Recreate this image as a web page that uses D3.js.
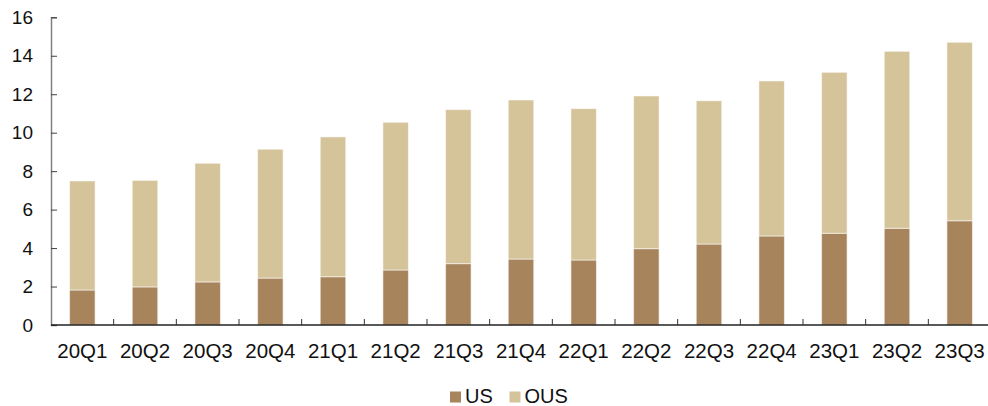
<!DOCTYPE html>
<html>
<head>
<meta charset="utf-8">
<script src="https://cdn.jsdelivr.net/npm/d3@7/dist/d3.min.js"></script>
<style>
  html, body { margin: 0; padding: 0; background: #fff; }
  svg { display: block; font-family: "Liberation Sans", Arial, sans-serif; }
</style>
</head>
<body>
<svg id="chart" width="988" height="406"></svg>
<script>
// Quarterly revenue split, US vs outside US
const quarters = ["20Q1","20Q2","20Q3","20Q4","21Q1","21Q2","21Q3","21Q4",
                  "22Q1","22Q2","22Q3","22Q4","23Q1","23Q2","23Q3"];
const usValues  = [1.82, 1.98, 2.24, 2.44, 2.51, 2.86, 3.19, 3.43, 3.38, 3.97, 4.21, 4.63, 4.77, 5.03, 5.42];
const ousValues = [5.67, 5.54, 6.17, 6.70, 7.27, 7.68, 8.01, 8.27, 7.87, 7.94, 7.45, 8.06, 8.37, 9.20, 9.28];
const seriesNames = ["US", "OUS"];
const yTicks = [0, 2, 4, 6, 8, 10, 12, 14, 16];

const colors = { US: "#a7845c", OUS: "#d5c39a" };

const svg = d3.select("#chart");
const plotLeft = 51, plotRight = 991, plotTop = 17.3, plotBottom = 325;

const xb = d3.scaleBand().domain(quarters).range([plotLeft, plotRight]);
const y = d3.scaleLinear().domain([0, 16]).range([plotBottom, plotTop]);

const rows = quarters.map((q, i) => ({ q, US: usValues[i], OUS: ousValues[i] }));
const stacked = d3.stack().keys(seriesNames)(rows);
const barWidth = 25.5;

// stacked bars
svg.append("g").selectAll("g")
  .data(stacked)
  .join("g")
  .attr("fill", d => colors[d.key])
  .selectAll("rect")
  .data(d => d)
  .join("rect")
  .attr("x", d => xb(d.data.q) + xb.bandwidth() / 2 - barWidth / 2)
  .attr("width", barWidth)
  .attr("y", d => y(d[1]))
  .attr("height", d => y(d[0]) - y(d[1]))
  .attr("stroke", "rgba(255,255,255,0.55)")
  .attr("stroke-width", 1);

// y axis
const yAxis = svg.append("g").attr("transform", `translate(${plotLeft},0)`)
  .call(d3.axisLeft(y).tickValues(yTicks).tickSize(-6).tickPadding(25).tickFormat(d3.format("d")));
yAxis.select(".domain").attr("stroke", "#808080").attr("stroke-width", 1.5);
yAxis.selectAll(".tick line").attr("stroke", "#404040");
yAxis.selectAll("text").attr("font-size", 19).attr("fill", "#111")
  .attr("font-family", "Liberation Sans, Arial, sans-serif").attr("dx", 7);

// x axis with category boundary ticks
const xAxis = svg.append("g").attr("transform", `translate(0,${plotBottom})`);
xAxis.append("line").attr("x1", plotLeft).attr("x2", plotRight).attr("stroke", "#222").attr("stroke-width", 1.5);
xAxis.selectAll("line.bound")
  .data(quarters.slice(1))
  .join("line")
  .attr("class", "bound")
  .attr("x1", d => xb(d)).attr("x2", d => xb(d))
  .attr("y1", 0).attr("y2", -6)
  .attr("stroke", "#333").attr("stroke-width", 1);
xAxis.selectAll("text")
  .data(quarters)
  .join("text")
  .attr("x", d => xb(d) + xb.bandwidth() / 2)
  .attr("y", 33)
  .attr("text-anchor", "middle")
  .attr("font-size", 20.5)
  .attr("fill", "#111")
  .text(d => d);

// legend
const legend = svg.append("g");
const legendItems = [{ name: "US", x: 450 }, { name: "OUS", x: 509.5 }];
legend.selectAll("rect")
  .data(legendItems)
  .join("rect")
  .attr("x", d => d.x).attr("y", 391.5)
  .attr("width", 11).attr("height", 11)
  .attr("fill", d => colors[d.name]);
legend.selectAll("text")
  .data(legendItems)
  .join("text")
  .attr("x", d => d.x + 15)
  .attr("y", 402.5)
  .attr("font-size", 20)
  .attr("fill", "#111")
  .text(d => d.name);
</script>
</body>
</html>
